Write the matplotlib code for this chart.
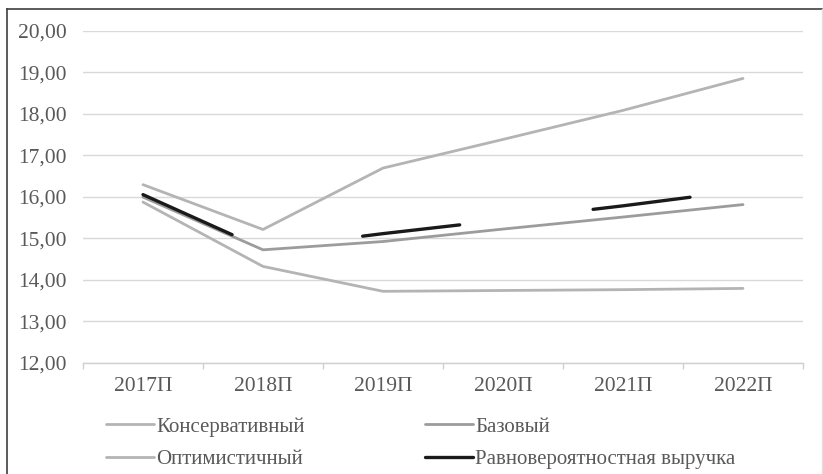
import matplotlib.pyplot as plt
from matplotlib.lines import Line2D
from matplotlib.ticker import FuncFormatter

# Chart data
years = ['2017П', '2018П', '2019П', '2020П', '2021П', '2022П']
conservative = [15.87, 14.32, 13.72, 13.74, 13.76, 13.79]
base = [15.99, 14.72, 14.92, 15.22, 15.51, 15.81]
optimistic = [16.29, 15.21, 16.69, 17.38, 18.08, 18.85]
equiprobable = [16.05, 14.75, 15.11, 15.44, 15.78, 16.15]

W, H = 823, 474
plt.rcParams['font.family'] = ['Liberation Serif', 'DejaVu Serif']
text_color = '#595959'

fig = plt.figure(figsize=(W / 100, H / 100), dpi=100)
ax = fig.add_axes([83 / W, 1 - 362.7 / H, (803 - 83) / W, (362.7 - 30.7) / H])

x = range(len(years))
l1, = ax.plot(x, conservative, color='#B4B4B4', lw=2.0, solid_capstyle='round', solid_joinstyle='round')
l2, = ax.plot(x, base, color='#9C9C9C', lw=2.0, solid_capstyle='round', solid_joinstyle='round')
l3, = ax.plot(x, optimistic, color='#B4B4B4', lw=2.0, solid_capstyle='round', solid_joinstyle='round')
l4, = ax.plot(x, equiprobable, color='#1A1A1A', lw=2.4, dash_capstyle='round',
              linestyle=(0, (29.3, 40.3)))

ax.set_xlim(-0.5, len(years) - 0.5)
ax.set_ylim(12, 20)
ax.set_yticks(range(12, 21))
ax.yaxis.set_major_formatter(FuncFormatter(lambda v, p: f'{v:.2f}'.replace('.', ',')))
ax.set_xticks(list(x))
ax.set_xticklabels(years)
ax.set_xticks([i - 0.5 for i in range(len(years) + 1)], minor=True)

ax.grid(axis='y', color='#D9D9D9', lw=1.0)
ax.set_axisbelow(True)
for s in ['top', 'right', 'left']:
    ax.spines[s].set_visible(False)
ax.spines['bottom'].set_color('#D0D0D0')
ax.spines['bottom'].set_linewidth(1.0)

ax.tick_params(axis='y', length=0, pad=12, labelsize=15.5, labelcolor=text_color)
ax.tick_params(axis='x', which='major', length=0, pad=10, labelsize=15.5, labelcolor=text_color)
ax.tick_params(axis='x', which='minor', length=4, width=1.0, color='#D0D0D0')

# legend: two columns, rows filled left to right
fig.legend([l1, l3, l2, l4],
           ['Консервативный', 'Оптимистичный', 'Базовый', 'Равновероятностная выручка'],
           ncol=2, loc='upper left', bbox_to_anchor=(106 / W, 1 - 417 / H),
           frameon=False, fontsize=15, labelcolor=text_color,
           handlelength=2.3, handletextpad=0.1, columnspacing=5.8,
           labelspacing=0.62, borderpad=0, borderaxespad=0)

# outer chart frame
fig.add_artist(Line2D([7 / W, 7 / W], [0, 1 - 9 / H], transform=fig.transFigure, color='#404040', lw=1.2))
fig.add_artist(Line2D([7 / W, 822 / W], [1 - 9 / H, 1 - 9 / H], transform=fig.transFigure, color='#404040', lw=1.2))
fig.add_artist(Line2D([822 / W, 822 / W], [0, 1 - 9 / H], transform=fig.transFigure, color='#E0E0E0', lw=1.0))

fig.savefig('out.png', dpi=100)
